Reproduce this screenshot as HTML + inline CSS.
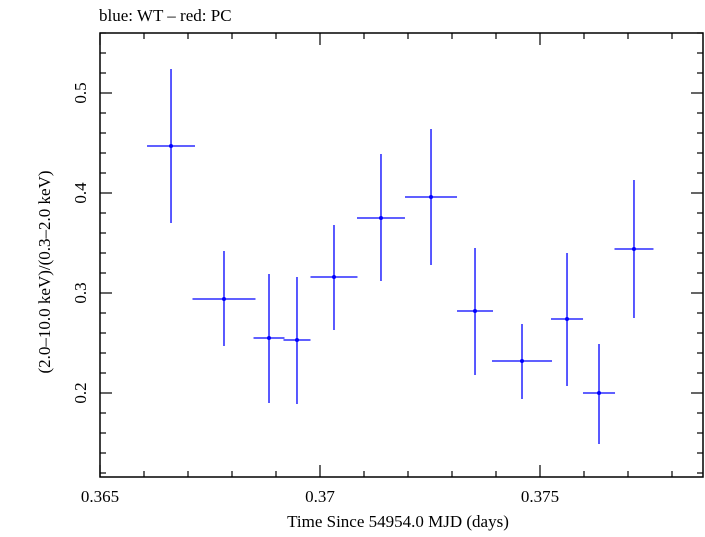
<!DOCTYPE html>
<html><head><meta charset="utf-8"><style>
body{margin:0;background:#fff}
svg text{font-family:"Liberation Serif",serif;fill:#000}
</style></head><body>
<svg id="chart" width="705" height="532" viewBox="0 0 705 532" xmlns="http://www.w3.org/2000/svg">
<text x="99" y="21" font-size="17">blue: WT – red: PC</text>
<rect x="100" y="33" width="603" height="444" fill="none" stroke="#000" stroke-width="1.5"/>
<g id="ticks"></g>
<g id="marks"></g>
<text x="398" y="527" font-size="17" text-anchor="middle">Time Since 54954.0 MJD (days)</text>
<text transform="translate(50,272) rotate(-90)" font-size="17" text-anchor="middle">(2.0–10.0 keV)/(0.3–2.0 keV)</text>
</svg>
<script>
const times=[0.366614,0.367818,0.368841,0.369477,0.370318,0.371386,0.372523,0.373523,0.374591,0.375614,0.376341,0.377136];
const halfWidths=[0.000545,0.000716,0.000352,0.000307,0.000534,0.000545,0.000591,0.000409,0.000682,0.000364,0.000364,0.000443];
const ratios=[0.447,0.294,0.255,0.253,0.316,0.375,0.396,0.282,0.232,0.274,0.200,0.344];
const errLow=[0.370,0.247,0.190,0.189,0.263,0.312,0.328,0.218,0.194,0.207,0.149,0.275];
const errHigh=[0.524,0.342,0.319,0.316,0.368,0.439,0.464,0.345,0.269,0.340,0.249,0.413];
const xTickLabels=["0.365","0.37","0.375"];
const xTickValues=[0.365,0.370,0.375];
const yTickLabels=["0.2","0.3","0.4","0.5"];
const yTickValues=[0.2,0.3,0.4,0.5];

const X0=100,X1=703,Y0=33,Y1=477;
const xMin=0.365,xMax=0.365+603/44000,yMin=0.5-384/1000,yMax=0.5+60/1000;
const sx=v=>X0+(v-xMin)/(xMax-xMin)*(X1-X0);
const sy=v=>Y1-(v-yMin)/(yMax-yMin)*(Y1-Y0);
const NS="http://www.w3.org/2000/svg";
function mk(tag,attrs,parent){const e=document.createElementNS(NS,tag);for(const k in attrs)e.setAttribute(k,attrs[k]);parent.appendChild(e);return e;}
const tg=document.getElementById('ticks');
// x ticks
for(let i=0;;i++){const v=0.365+i*0.001;if(v>xMax)break;const px=sx(v);const major=i%5===0;const L=major?12:6;
 let t=mk('line',{x1:px,x2:px,y1:Y1,y2:Y1-L,stroke:'#000','stroke-width':1.2},tg);
 
 
 t=mk('line',{x1:px,x2:px,y1:Y0,y2:Y0+L,stroke:'#000','stroke-width':1.2},tg);
 
 }
xTickValues.forEach((v,i)=>{const t=mk('text',{x:sx(v),y:502,'font-size':17,'text-anchor':'middle'},tg);t.textContent=xTickLabels[i];
 
 });
// y ticks
for(let i=0;;i++){const v=0.12+i*0.02;if(v>yMax)break;const py=sy(v);const major=Math.abs((v*10)-Math.round(v*10))<1e-6;const L=major?12:6;
 let t=mk('line',{x1:X0,x2:X0+L,y1:py,y2:py,stroke:'#000','stroke-width':1.2},tg);
 
 
 t=mk('line',{x1:X1,x2:X1-L,y1:py,y2:py,stroke:'#000','stroke-width':1.2},tg);
 
 }
yTickValues.forEach((v,i)=>{const t=mk('text',{transform:`translate(86,${sy(v)}) rotate(-90)`,'font-size':17,'text-anchor':'middle'},tg);t.textContent=yTickLabels[i];
 
 });
// data
const mg=document.getElementById('marks');
times.forEach((t,i)=>{
 const g=mk('g',{},mg);
 
 
 mk('line',{x1:sx(t-halfWidths[i]),x2:sx(t+halfWidths[i]),y1:sy(ratios[i]),y2:sy(ratios[i]),stroke:'#0000ff','stroke-width':1.3},g);
 mk('line',{x1:sx(t),x2:sx(t),y1:sy(errLow[i]),y2:sy(errHigh[i]),stroke:'#0000ff','stroke-width':1.3},g);
 mk('circle',{cx:sx(t),cy:sy(ratios[i]),r:2,fill:'#0000ff'},g);
});
</script>
</body></html>
